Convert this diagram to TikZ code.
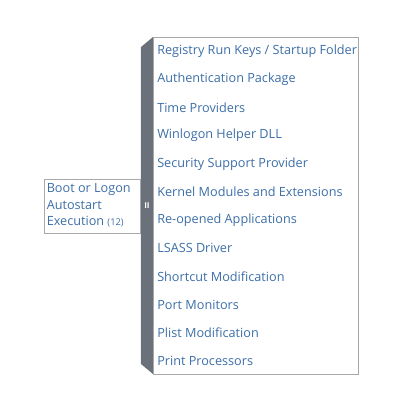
\documentclass[tikz,border=0pt]{standalone}
\usepackage{fontspec}
\setmainfont{Open Sans}
\definecolor{tblue}{HTML}{3D6FA8}
\definecolor{barg}{HTML}{6B717A}
\definecolor{boxb}{HTML}{A8A8A8}
\begin{document}
\begin{tikzpicture}[x=0.75pt,y=-0.75pt,
  item/.style={anchor=west,inner sep=0pt,text=tblue,font=\fontsize{9.5}{11}\selectfont},
  frame/.style={draw=boxb,line width=0.6pt,fill=white}]
\useasboundingbox (0,0) rectangle (409,412);
% gray bar
\fill[barg] (141,47) -- (153,37) -- (153,374) -- (141,364) -- cycle;
% right box
\draw[frame] (153,37) rectangle (358,374);
% left box
\draw[frame] (44,179) rectangle (140,233);
\node[item,anchor=north west,align=left,font=\fontsize{9.5}{12.4}\selectfont] (tech) at (46.5,183.5)
  {Boot or Logon\\Autostart\\Execution {\fontsize{7}{8}\selectfont(12)}};
% handle symbol
\node[inner sep=0pt,text=white,font=\fontsize{6}{6}\selectfont\bfseries] (handle) at (147,205.5) {II};
\foreach \t [count=\i] in {Registry Run Keys / Startup Folder,Authentication Package,Time Providers,Winlogon Helper DLL,Security Support Provider,Kernel Modules and Extensions,Re-opened Applications,LSASS Driver,Shortcut Modification,Port Monitors,Plist Modification,Print Processors}
  \node[item] (s\i) at (157,{51+(\i-1)*28.2}) {\t};
\end{tikzpicture}
\end{document}
